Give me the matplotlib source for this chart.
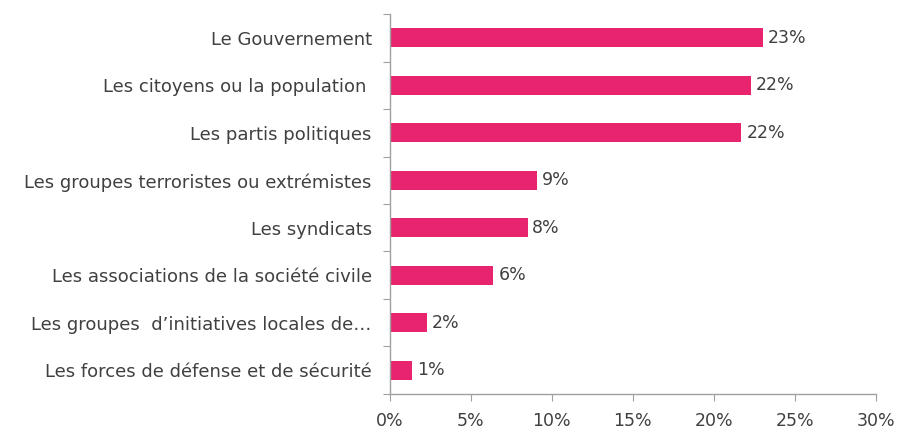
import matplotlib.pyplot as plt
from matplotlib.ticker import FuncFormatter

categories = [
    "Le Gouvernement",
    "Les citoyens ou la population ",
    "Les partis politiques",
    "Les groupes terroristes ou extrémistes",
    "Les syndicats",
    "Les associations de la société civile",
    "Les groupes  d\u2019initiatives locales de\u2026",
    "Les forces de défense et de sécurité",
]
values = [23.0, 22.3, 21.7, 9.1, 8.5, 6.4, 2.3, 1.4]
value_labels = ["23%", "22%", "22%", "9%", "8%", "6%", "2%", "1%"]
xticks = [0, 5, 10, 15, 20, 25, 30]

plt.rcParams['font.family'] = ['DejaVu Sans']

fig = plt.figure(figsize=(8.98, 4.30), dpi=100)
ax = fig.add_axes([0.434, 0.084, 0.5415, 0.883])

n = len(categories)
ypos = list(range(n))[::-1]
ax.barh(ypos, values, height=0.4, color='#E8246F', zorder=2)

for y, v, lab in zip(ypos, values, value_labels):
    ax.text(v + 0.3, y, lab, va='center', ha='left', fontsize=12.5, color='#404040')

ax.set_xlim(0, 30)
ax.set_ylim(-0.5, n - 0.5)
ax.set_xticks(xticks)
ax.xaxis.set_major_formatter(FuncFormatter(lambda x, p: f"{int(x)}%"))

# y ticks at category boundaries, labels at centres
ax.set_yticks([i - 0.5 for i in range(n + 1)])
ax.set_yticklabels([])
ax.set_yticks(ypos, minor=True)
ax.set_yticklabels(categories, minor=True)
ax.tick_params(axis='y', which='minor', length=0, pad=13, labelsize=13, labelcolor='#404040')
ax.tick_params(axis='y', which='major', length=5, color='#A0A0A0')
ax.tick_params(axis='x', length=5, color='#A0A0A0', labelsize=12.5, labelcolor='#404040', pad=8)

for s in ['top', 'right']:
    ax.spines[s].set_visible(False)
for s in ['left', 'bottom']:
    ax.spines[s].set_color('#A0A0A0')
    ax.spines[s].set_linewidth(1.0)

plt.savefig('out.png', dpi=100)
plt.close()
